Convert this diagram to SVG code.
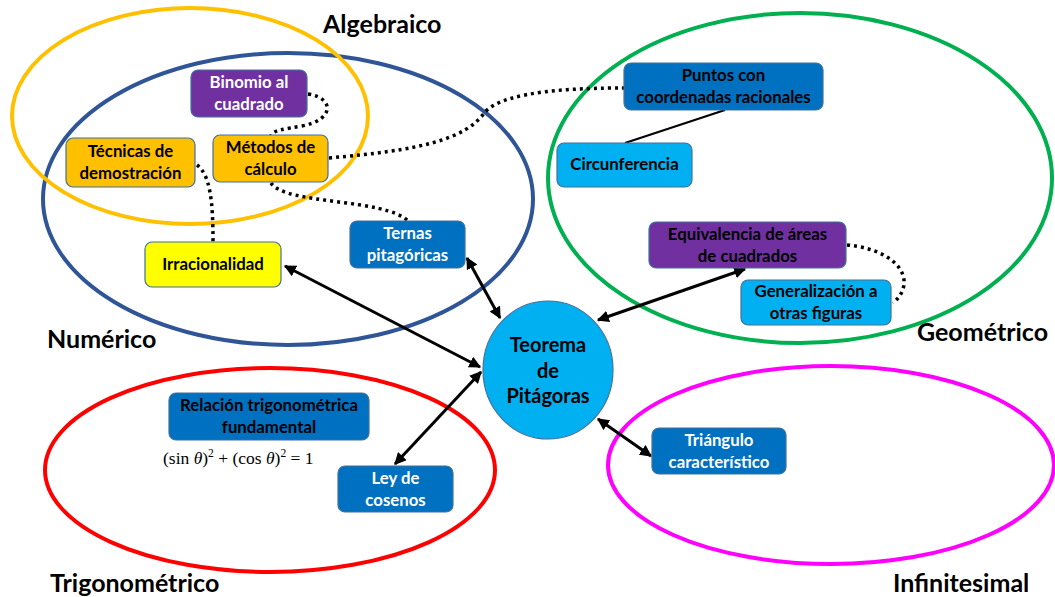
<svg xmlns="http://www.w3.org/2000/svg" width="1055" height="597" viewBox="0 0 1055 597">
<defs>
<marker id="ah" viewBox="0 0 10 10" refX="9" refY="5" markerWidth="4" markerHeight="4" orient="auto-start-reverse" markerUnits="strokeWidth">
<path d="M0,0 L10,5 L0,10 z" fill="#000"/>
</marker>
<style>
.reg{fill:none;stroke-width:4}
.title{font-family:Lato,"Liberation Sans",sans-serif;font-weight:bold;font-size:25px;fill:#000}
.box{stroke:#41719C;stroke-width:1.2}
.t{font-family:Lato,"Liberation Sans",sans-serif;font-weight:bold;font-size:16.8px;text-anchor:middle}
.big{font-size:20px}
.w{fill:#fff}
.k{fill:#000}
.dot{fill:none;stroke:#000;stroke-width:3.5;stroke-dasharray:3 4}
.arr{fill:none;stroke:#000;stroke-width:3;marker-start:url(#ah);marker-end:url(#ah)}
</style>
</defs>
<rect width="1055" height="597" fill="#fff"/>

<g id="regions">
<ellipse class="reg" cx="288" cy="199" rx="245" ry="146" stroke="#2F5597"/>
<ellipse class="reg" cx="190" cy="116" rx="178" ry="108" stroke="#FFC000"/>
<ellipse class="reg" cx="800" cy="178" rx="252" ry="165" stroke="#00B050"/>
<ellipse class="reg" cx="270" cy="470" rx="225" ry="102" stroke="#FF0000"/>
<ellipse class="reg" cx="831" cy="465" rx="223" ry="99" stroke="#FF00FF"/>
<text class="title" x="323" y="33">Algebraico</text>
<text class="title" x="47" y="348">Numérico</text>
<text class="title" x="917" y="341">Geométrico</text>
<text class="title" x="50" y="592">Trigonométrico</text>
<text class="title" x="893" y="592">Infinitesimal</text>
</g>

<g id="connectors">
<path class="dot" d="M308,94 C335,98 334,120 302,126 C285,129 272,130 271,136"/>
<path class="dot" d="M197,165 C210,175 213,200 213,242"/>
<path class="dot" d="M271,183 C285,205 385,198 408,221"/>
<path class="dot" d="M329,158 C420,150 465,140 485,112 C505,90 580,88 624,88"/>
<path class="dot" d="M847,245 C900,250 918,282 893,303"/>
<line x1="625" y1="143" x2="725" y2="110" stroke="#000" stroke-width="2"/>
<line class="arr" x1="285" y1="266" x2="480" y2="367"/>
<line class="arr" x1="467" y1="258" x2="500" y2="318"/>
<line class="arr" x1="745" y1="269" x2="598" y2="320"/>
<line class="arr" x1="395" y1="464" x2="481" y2="372"/>
<line class="arr" x1="651" y1="456" x2="598" y2="419"/>
</g>

<g id="binomio">
<rect class="box" x="191" y="70" width="116" height="47" rx="7" fill="#7030A0"/>
<text class="t w" x="249" y="88">Binomio al</text>
<text class="t w" x="249" y="110">cuadrado</text>
</g>
<g id="tecnicas">
<rect class="box" x="66" y="138" width="129" height="49" rx="7" fill="#FFC000"/>
<text class="t k" x="130.5" y="157">Técnicas de</text>
<text class="t k" x="130.5" y="179">demostración</text>
</g>
<g id="metodos">
<rect class="box" x="213" y="135" width="115" height="47" rx="7" fill="#FFC000"/>
<text class="t k" x="270.5" y="153">Métodos de</text>
<text class="t k" x="270.5" y="175">cálculo</text>
</g>
<g id="irracionalidad">
<rect class="box" x="145" y="242" width="136" height="45" rx="7" fill="#FFFF00"/>
<text class="t k" x="213" y="270">Irracionalidad</text>
</g>
<g id="ternas">
<rect class="box" x="350" y="221" width="115" height="47" rx="7" fill="#0070C0"/>
<text class="t w" x="407.5" y="239">Ternas</text>
<text class="t w" x="407.5" y="261">pitagóricas</text>
</g>
<g id="puntos">
<rect class="box" x="624" y="63" width="199" height="47" rx="7" fill="#0070C0"/>
<text class="t k" x="723.5" y="81">Puntos con</text>
<text class="t k" x="723.5" y="103">coordenadas racionales</text>
</g>
<g id="circunferencia">
<rect class="box" x="557" y="143" width="135" height="44" rx="7" fill="#00B0F0"/>
<text class="t k" x="624.5" y="170">Circunferencia</text>
</g>
<g id="equivalencia">
<rect class="box" x="649" y="222" width="197" height="46" rx="7" fill="#7030A0"/>
<text class="t k" x="747.5" y="240">Equivalencia de áreas</text>
<text class="t k" x="747.5" y="262">de cuadrados</text>
</g>
<g id="generalizacion">
<rect class="box" x="741" y="280" width="150" height="45" rx="7" fill="#00B0F0"/>
<text class="t k" x="816" y="297">Generalización a</text>
<text class="t k" x="816" y="319">otras figuras</text>
</g>
<g id="teorema">
<ellipse cx="548" cy="370" rx="65" ry="69" fill="#00B0F0" stroke="#41719C" stroke-width="1.2"/>
<text class="t k big" x="548" y="352">Teorema</text>
<text class="t k big" x="548" y="378">de</text>
<text class="t k big" x="548" y="403">Pitágoras</text>
</g>
<g id="relacion">
<rect class="box" x="169" y="393" width="200" height="47" rx="7" fill="#0070C0"/>
<text class="t k" x="269" y="411">Relación trigonométrica</text>
<text class="t k" x="269" y="433">fundamental</text>
<text x="163" y="464" font-family="'Liberation Serif',serif" font-size="17.5" fill="#000">(sin <tspan font-style="italic">θ</tspan>)<tspan font-size="11.5" dy="-7">2</tspan><tspan dy="7"> + (cos </tspan><tspan font-style="italic">θ</tspan>)<tspan font-size="11.5" dy="-7">2</tspan><tspan dy="7"> = 1</tspan></text>
</g>
<g id="ley">
<rect class="box" x="338" y="466" width="115" height="46" rx="7" fill="#0070C0"/>
<text class="t w" x="395.5" y="484">Ley de</text>
<text class="t w" x="395.5" y="506">cosenos</text>
</g>
<g id="triangulo">
<rect class="box" x="652" y="428" width="134" height="46" rx="7" fill="#0070C0"/>
<text class="t w" x="719" y="446">Triángulo</text>
<text class="t w" x="719" y="468">característico</text>
</g>
</svg>
